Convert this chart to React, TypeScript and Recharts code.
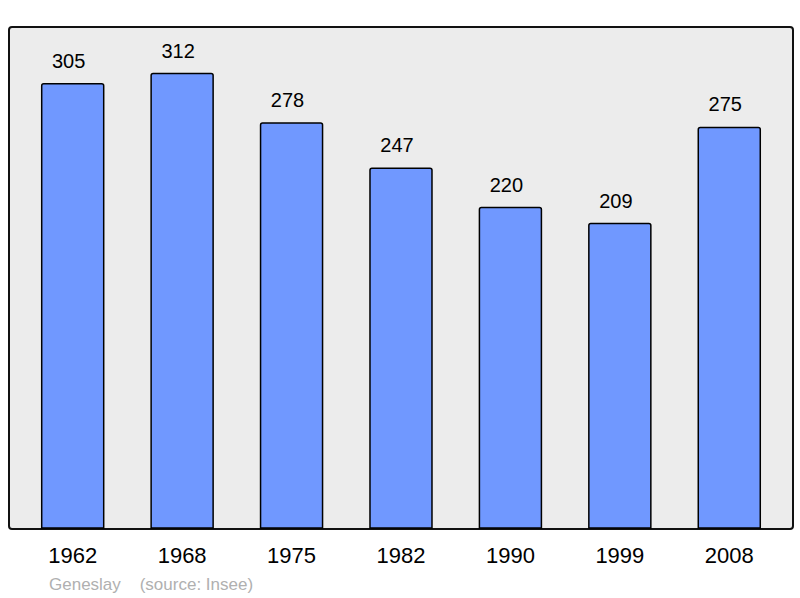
import { BarChart, Bar, XAxis, YAxis, LabelList } from "recharts";

const years = ["1962", "1968", "1975", "1982", "1990", "1999", "2008"];
const population = [305, 312, 278, 247, 220, 209, 275];

const data = years.map((year, i) => ({ year, value: population[i] }));

const font = "'Liberation Sans', Arial, sans-serif";

const App = () => {
  return (
    <div style={{ position: "absolute", left: 0, top: 0, width: 800, height: 598, background: "#fff", fontFamily: font }}>
      <div
        style={{
          position: "absolute",
          left: 8,
          top: 26,
          width: 782,
          height: 500,
          background: "#ececec",
          border: "2px solid #111",
          borderRadius: 4,
        }}
      />
      <div style={{ position: "absolute", left: 0, top: 0 }}>
        <BarChart
          width={800}
          height={598}
          data={data}
          margin={{ top: 27, right: 16, bottom: 0, left: 18 }}
          barCategoryGap={23.7}
        >
          <XAxis
            dataKey="year"
            axisLine={false}
            tickLine={false}
            tickSize={0}
            tickMargin={19}
            height={70}
            tick={{ fill: "#000", fontSize: 22, fontFamily: font }}
          />
          <YAxis hide domain={[0, 344]} />
          <Bar
            dataKey="value"
            fill="#7098ff"
            stroke="#000"
            strokeWidth={1.5}
            radius={[2, 2, 0, 0]}
            isAnimationActive={false}
          >
            <LabelList
              dataKey="value"
              position="top"
              offset={16}
              dx={-4}
              fill="#000"
              fontSize={20}
              fontFamily={font}
            />
          </Bar>
        </BarChart>
      </div>
      <div style={{ position: "absolute", left: 49, top: 575, fontSize: 17, color: "#b0b0b0", whiteSpace: "pre" }}>
        {"Geneslay    (source: Insee)"}
      </div>
    </div>
  );
};

export default App;
